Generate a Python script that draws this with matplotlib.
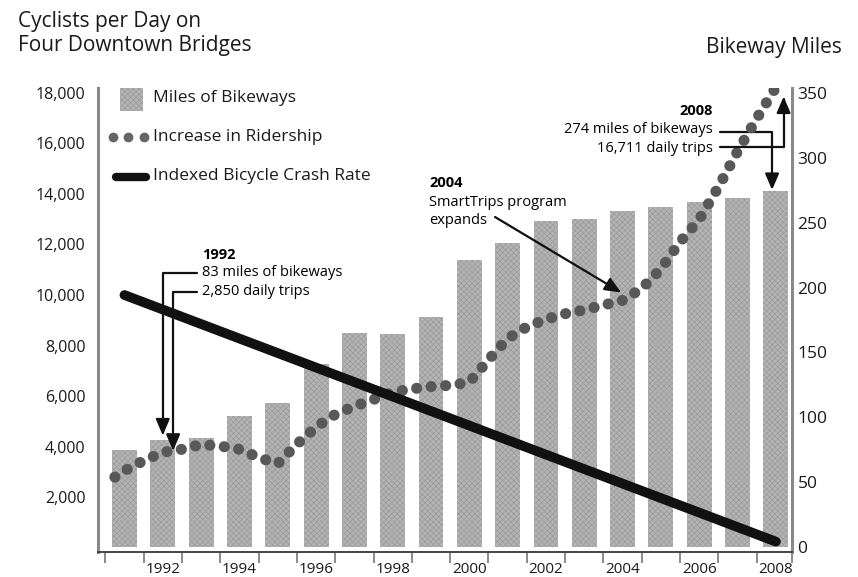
import numpy as np
import matplotlib
matplotlib.use("Agg")
import matplotlib.pyplot as plt
import matplotlib.font_manager as fm
from matplotlib.patches import Rectangle

plt.rcParams['font.family'] = ['Open Sans', 'DejaVu Sans']
plt.rcParams['hatch.linewidth'] = 0.5

# data
years = list(range(1991, 2009))
bikeway_miles = [75, 83, 84, 101, 111, 141, 165, 164, 177, 221,
                 234, 251, 253, 259, 262, 266, 269, 274]

ridership_years = [1990.75, 1991.0, 1991.5, 1992.0, 1992.5, 1993.0, 1993.5, 1994.0,
                   1994.5, 1995.0, 1995.5, 1996.0, 1996.5, 1997.0, 1997.5, 1998.0,
                   1998.5, 1999.0, 1999.5, 2000.0, 2000.5, 2001.0, 2001.5, 2002.0,
                   2002.5, 2003.0, 2003.5, 2004.0, 2004.5, 2005.0, 2005.5, 2006.0,
                   2006.5, 2007.0, 2007.5, 2008.05]
ridership = [2800, 3050, 3450, 3780, 3900, 4090, 4030, 3900,
             3580, 3330, 4100, 4780, 5280, 5600, 5870, 6160,
             6290, 6380, 6430, 6550, 7440, 8280, 8740, 9040,
             9260, 9410, 9600, 9790, 10260, 11030, 12100, 12990,
             14270, 15680, 16980, 18340]

crash_years = [1991, 2008]
crash_rate = [10000, 250]

left_ticks = [2000, 4000, 6000, 8000, 10000, 12000, 14000, 16000, 18000]
right_ticks = [0, 50, 100, 150, 200, 250, 300, 350]
label_years = [1992, 1994, 1996, 1998, 2000, 2002, 2004, 2006, 2008]

bar_face = '#b4b4b4'
bar_hatch = '#9a9a9a'
dot_color = '#585858'

# condensed face for the axis numbers if there is one
has_narrow = any(f.name == 'Liberation Sans Narrow' for f in fm.fontManager.ttflist)
narrow = ['Liberation Sans Narrow'] if has_narrow else ['Open Sans']
num_fs = 12.5 if has_narrow else 11

fig = plt.figure(figsize=(8.58, 5.77), dpi=100)
ax = fig.add_axes([98 / 858, 25 / 577, 694 / 858, 464 / 577])
ax2 = ax.twinx()

# bars (right axis, miles)
ax.bar(years, bikeway_miles, width=0.65, color=bar_face, edgecolor=bar_hatch,
       hatch='xxxxxx', linewidth=0, zorder=1)
ax.set_xlim(1990.31, 2008.42)
ax.set_ylim(-3.5, 353.5)
ax.yaxis.tick_right()
ax.set_yticks(right_ticks)
ax.tick_params(axis='y', length=0, pad=4, labelsize=12.5, labelcolor='#1a1a1a')

ax.set_xticks(label_years)
ax.set_xticks(list(np.arange(1990.5, 2008, 1.0)) + [2008.42], minor=True)
ax.tick_params(axis='x', which='major', length=0, pad=7, labelsize=num_fs, labelcolor='#1a1a1a')
ax.tick_params(axis='x', which='minor', length=8, width=1.2, color='#777777', direction='out')
for lbl in ax.get_xticklabels():
    lbl.set_fontfamily(narrow)

ax.spines['top'].set_visible(False)
ax.spines['left'].set_color('#8a8a8a')
ax.spines['left'].set_linewidth(2.2)
ax.spines['right'].set_color('#8a8a8a')
ax.spines['right'].set_linewidth(2.2)
ax.spines['bottom'].set_color('#444444')
ax.spines['bottom'].set_linewidth(1.4)
for s in ax2.spines.values():
    s.set_visible(False)

# ridership + crash rate (left axis)
ax2.plot(ridership_years, ridership, color=dot_color, lw=8,
         linestyle=(0, (0.01, 1.3)), dash_capstyle='round', zorder=3)
ax2.plot(crash_years, crash_rate, color='#111111', lw=7, solid_capstyle='round', zorder=4)
ax2.set_ylim(-160, 18185)
ax2.yaxis.tick_left()
ax2.set_yticks(left_ticks)
ax2.set_yticklabels([f'{v:,}' for v in left_ticks])
ax2.tick_params(axis='y', length=0, pad=9, labelsize=num_fs + 0.5, labelcolor='#1a1a1a')
for lbl in ax2.get_yticklabels():
    lbl.set_fontfamily(narrow)

# legend, drawn by hand
ax2.add_patch(Rectangle((0.0317, 0.9504), 0.0331, 0.0496, transform=ax2.transAxes,
                        facecolor=bar_face, edgecolor=bar_hatch, hatch='xxxxxx',
                        linewidth=0, clip_on=False))
ax2.plot([0.0216, 0.0432, 0.0663], [0.8944] * 3, 'o', ms=6, color='#666666',
         transform=ax2.transAxes, clip_on=False)
ax2.plot([0.0259, 0.0692], [0.8082] * 2, color='#111111', lw=6, solid_capstyle='round',
         transform=ax2.transAxes, clip_on=False)
leg_labels = ['Miles of Bikeways', 'Increase in Ridership', 'Indexed Bicycle Crash Rate']
for lab, y in zip(leg_labels, [0.9784, 0.8944, 0.8103]):
    ax2.text(0.0793, y, lab, transform=ax2.transAxes, fontsize=12.5, va='center',
             ha='left', color='#1a1a1a')

# annotations
arrow = dict(arrowstyle='-|>,head_length=0.7,head_width=0.3', color='#111111', lw=1.6,
             mutation_scale=14, shrinkA=0)
bracket = 'angle,angleA=0,angleB=90,rad=0'
ann_fs = 10.5

ax2.text(1993.03, 11582, '1992', fontsize=ann_fs, fontweight='bold', va='center')
ax2.text(1993.03, 10871, '83 miles of bikeways', fontsize=ann_fs, va='center')
ax2.text(1993.03, 10120, '2,850 daily trips', fontsize=ann_fs, va='center')
ax.annotate('', xy=(1992, bikeway_miles[1]), xytext=(1992.9, 10871), textcoords=ax2.transData,
            arrowprops=dict(arrow, shrinkB=3, connectionstyle=bracket), zorder=6)
ax2.annotate('', xy=(1992.27, np.interp(1992.27, ridership_years, ridership)),
             xytext=(1992.9, 10120),
             arrowprops=dict(arrow, shrinkB=0, connectionstyle=bracket), zorder=6)

ax2.text(1998.95, 14428, '2004', fontsize=ann_fs, fontweight='bold', va='center')
ax2.text(1998.95, 13677, 'SmartTrips program', fontsize=ann_fs, va='center')
ax2.text(1998.95, 12966, 'expands', fontsize=ann_fs, va='center')
ax2.annotate('', xy=(2004.15, np.interp(2004.15, ridership_years, ridership)),
             xytext=(2000.67, 13085), arrowprops=dict(arrow, shrinkB=6), zorder=6)

ax2.text(2006.36, 17275, '2008', fontsize=ann_fs, fontweight='bold', va='center', ha='right')
ax2.text(2006.36, 16563, '274 miles of bikeways', fontsize=ann_fs, va='center', ha='right')
ax2.text(2006.36, 15812, '16,711 daily trips', fontsize=ann_fs, va='center', ha='right')
ax.annotate('', xy=(2007.9, bikeway_miles[-1]), xytext=(2006.55, 16444), textcoords=ax2.transData,
            arrowprops=dict(arrow, shrinkB=1, connectionstyle=bracket), zorder=6)
ax2.annotate('', xy=(2008.2, ridership[-1]), xytext=(2006.55, 15852), annotation_clip=False,
             arrowprops=dict(arrow, shrinkB=9, connectionstyle=bracket), zorder=6)

# titles
fig.text(18 / 858, 1 - 11 / 577, 'Cyclists per Day on\nFour Downtown Bridges', fontsize=15,
         va='top', ha='left', linespacing=1.2, color='#1a1a1a')
fig.text(842 / 858, 1 - 48 / 577, 'Bikeway Miles', fontsize=15, va='center', ha='right',
         color='#1a1a1a')

fig.savefig('out.png', dpi=100)
